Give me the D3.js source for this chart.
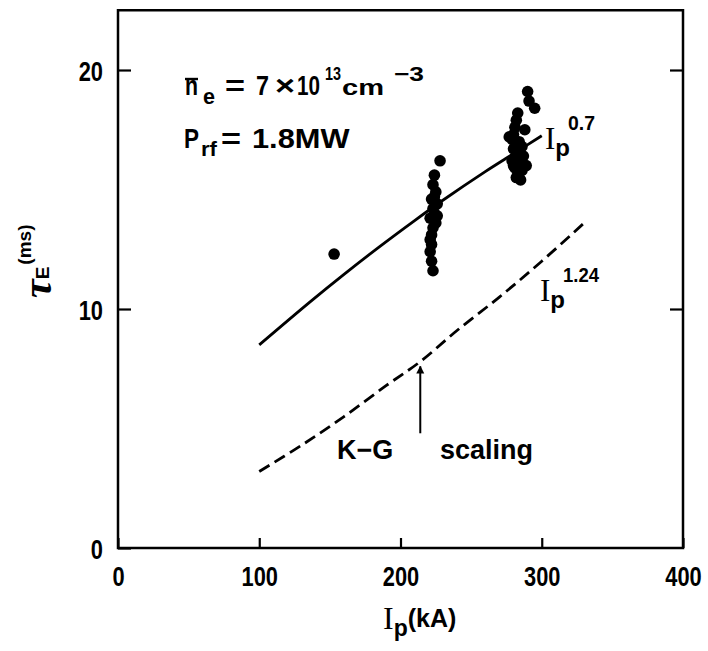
<!DOCTYPE html>
<html>
<head>
<meta charset="utf-8">
<script src="https://cdn.jsdelivr.net/npm/d3@7"></script>
<style>
  html, body { margin: 0; padding: 0; background: #fff; }
  svg { display: block; }
  .narrow { font-family: "Liberation Sans", Arial, sans-serif; font-weight: bold; }
  .sans { font-family: "Liberation Sans", Arial, sans-serif; font-weight: bold; }
  .serif { font-family: "Liberation Serif", "Times New Roman", serif; }
</style>
</head>
<body>
<svg id="chart" width="708" height="651"></svg>
<script>
// Plasma current (kA) vs energy confinement time (ms)
const xTicks = [0, 100, 200, 300, 400];
const yTicks = [0, 10, 20];

// measured shots
const shotIp  = [153, 228, 224, 223, 225, 222, 226, 223, 224, 221, 225, 223, 222, 221, 222, 226, 224, 222, 223, 221,
                 290, 295, 291, 283, 282, 281, 280, 279, 284, 286, 280, 283, 287, 279, 284, 281, 286, 283, 285, 280, 277, 288, 285, 289, 282];
const shotTau = [12.3, 16.2, 15.6, 15.2, 14.9, 14.6, 14.4, 14.2, 14.0, 13.8, 13.6, 13.4, 13.1, 12.9, 12.7, 13.9, 14.7, 12.0, 11.6, 12.4,
                 19.1, 18.4, 18.7, 18.2, 17.9, 17.6, 17.3, 17.1, 17.0, 16.8, 16.7, 16.5, 16.4, 16.2, 16.1, 15.9, 15.8, 15.6, 15.4, 16.0, 17.2, 17.5, 16.3, 16.0, 15.5];

// Ip^0.7 fit (solid)
const fitIp  = [100, 136, 160, 185, 210, 230, 260, 280, 300];
const fitTau = [8.5, 10.3, 11.45, 12.6, 13.7, 14.55, 15.75, 16.5, 17.25];

// K-G scaling, Ip^1.24 (dashed)
const kgIp  = [100, 130, 160, 190, 214, 240, 270, 300, 330];
const kgTau = [3.2, 4.3, 5.5, 6.8, 7.8, 9.1, 10.5, 12.0, 13.6];

const svg = d3.select("#chart");
const x = d3.scaleLinear().domain([0, 400]).range([118, 683]);
const y = d3.scaleLinear().domain([0, 20]).range([548, 70]);
const yTop = 22.5;
const narrowX = 0.78;   // horizontal squeeze for the condensed numerals

// condensed bold lettering: squeeze each string to a fixed width per glyph
function squeeze(sel, perChar) {
  sel.attr("textLength", function () { return this.textContent.length * perChar; })
     .attr("lengthAdjust", "spacingAndGlyphs");
}

// frame
svg.append("rect")
  .attr("x", x(0)).attr("y", y(yTop))
  .attr("width", x(400) - x(0)).attr("height", y(0) - y(yTop))
  .attr("fill", "none").attr("stroke", "#000").attr("stroke-width", 2.5);

// axes
const xAxis = svg.append("g").attr("transform", `translate(0,${y(0)})`)
  .call(d3.axisBottom(x).tickValues(xTicks).tickSizeInner(-10).tickSizeOuter(0).tickPadding(20).tickFormat(d3.format("d")));
const yAxis = svg.append("g").attr("transform", `translate(${x(0)},0)`)
  .call(d3.axisLeft(y).tickValues(yTicks).tickSizeInner(-13).tickSizeOuter(0).tickPadding(15).tickFormat(d3.format("d")));
const yAxisR = svg.append("g").attr("transform", `translate(${x(400)},0)`)
  .call(d3.axisRight(y).tickValues([10, 20]).tickSizeInner(-13).tickSizeOuter(0).tickFormat(""));

[xAxis, yAxis, yAxisR].forEach(g => {
  g.select(".domain").remove();
  g.selectAll(".tick line").attr("stroke", "#000").attr("stroke-width", 2.2);
  g.selectAll(".tick text").attr("class", "narrow").attr("font-size", 28).attr("fill", "#000")
    .attr("transform", `scale(${narrowX},1)`);
});
xAxis.selectAll(".tick text").attr("dy", "0.66em");
yAxis.selectAll(".tick text").attr("dy", "0.38em").attr("x", -15 / narrowX);

const line = d3.line().x(d => x(d[0])).y(d => y(d[1])).curve(d3.curveCatmullRom);

// fit lines
svg.append("path")
  .datum(fitIp.map((v, i) => [v, fitTau[i]]))
  .attr("d", line).attr("fill", "none").attr("stroke", "#000").attr("stroke-width", 2.8);
svg.append("path")
  .datum(kgIp.map((v, i) => [v, kgTau[i]]))
  .attr("d", line).attr("fill", "none").attr("stroke", "#000").attr("stroke-width", 2.8)
  .attr("stroke-dasharray", "12,6");

// shots
svg.append("g").selectAll("circle")
  .data(shotIp.map((v, i) => [v, shotTau[i]]))
  .join("circle")
  .attr("cx", d => x(d[0])).attr("cy", d => y(d[1])).attr("r", 5.8).attr("fill", "#000");

// arrow to K-G curve
svg.append("defs").append("marker")
  .attr("id", "head").attr("viewBox", "0 0 10 10").attr("refX", 9).attr("refY", 5)
  .attr("markerWidth", 4).attr("markerHeight", 6).attr("orient", "auto")
  .append("path").attr("d", "M0,0 L10,5 L0,10 Z").attr("fill", "#000");
svg.append("line")
  .attr("x1", x(214)).attr("y1", y(4.8)).attr("x2", x(214)).attr("y2", y(7.6))
  .attr("stroke", "#000").attr("stroke-width", 2).attr("marker-end", "url(#head)");

svg.append("text").attr("class", "sans").attr("font-size", 27)
  .attr("x", 337).attr("y", 459).text("K\u2212G");
svg.append("text").attr("class", "sans").attr("font-size", 27)
  .attr("x", 440).attr("y", 459).text("scaling");

// curve labels
function ipLabel(xp, yp, exp) {
  const t = svg.append("text").attr("x", xp).attr("y", yp);
  t.append("tspan").attr("class", "serif").attr("font-size", 31).text("I");
  t.append("tspan").attr("class", "sans").attr("font-size", 24).attr("dy", 7).text("p");
  const e = t.append("tspan").attr("class", "narrow").attr("font-size", 20).attr("dx", -2).attr("dy", -26).text(exp);
  squeeze(e, 9);
}
ipLabel(545, 149, "0.7");
ipLabel(540, 301, "1.24");

// plasma conditions
function piece(txt, xp, yp, size, perChar) {
  const t = svg.append("text").attr("class", "narrow").attr("font-size", size)
    .attr("x", xp).attr("y", yp).text(txt);
  if (perChar) squeeze(t, perChar);
  return t;
}
piece("n", 185, 95, 28, 13);
piece("e", 203, 104, 22, 12);
piece("=", 225, 95, 28, 20);
piece("7", 256, 95, 28, 13);
piece("\u00d7", 275, 95, 28, 20);
piece("10", 297, 95, 28, 11.5);
piece("13", 325, 80, 19, 8);
piece("cm", 342, 95, 22, 21);
piece("\u22123", 394, 81, 21, 15);
svg.append("line").attr("x1", 185).attr("x2", 198).attr("y1", 79).attr("y2", 79)
  .attr("stroke", "#000").attr("stroke-width", 2.4);

piece("P", 184, 148, 28, 15);
piece("rf", 201, 156, 21, 8);
piece("=", 221, 148, 28, 20);
piece("1.8MW", 252, 148, 28, 19.5);

// axis titles
const xt = svg.append("text").attr("x", 383).attr("y", 629);
xt.append("tspan").attr("class", "serif").attr("font-size", 32).text("I");
xt.append("tspan").attr("class", "sans").attr("font-size", 23).attr("dy", 7).text("p");
xt.append("tspan").attr("class", "sans").attr("font-size", 25).attr("dy", -9).text("(kA)");

const yt = svg.append("text").attr("transform", "translate(51,298) rotate(-90)");
yt.append("tspan").attr("class", "serif").attr("font-size", 42).attr("font-style", "italic").attr("font-weight", "bold").text("\u03c4");
yt.append("tspan").attr("class", "sans").attr("font-size", 19).attr("dy", -2).text("E");
yt.append("tspan").attr("class", "sans").attr("font-size", 19).attr("dx", 2).attr("dy", -18).text("(ms)");
</script>
</body>
</html>
